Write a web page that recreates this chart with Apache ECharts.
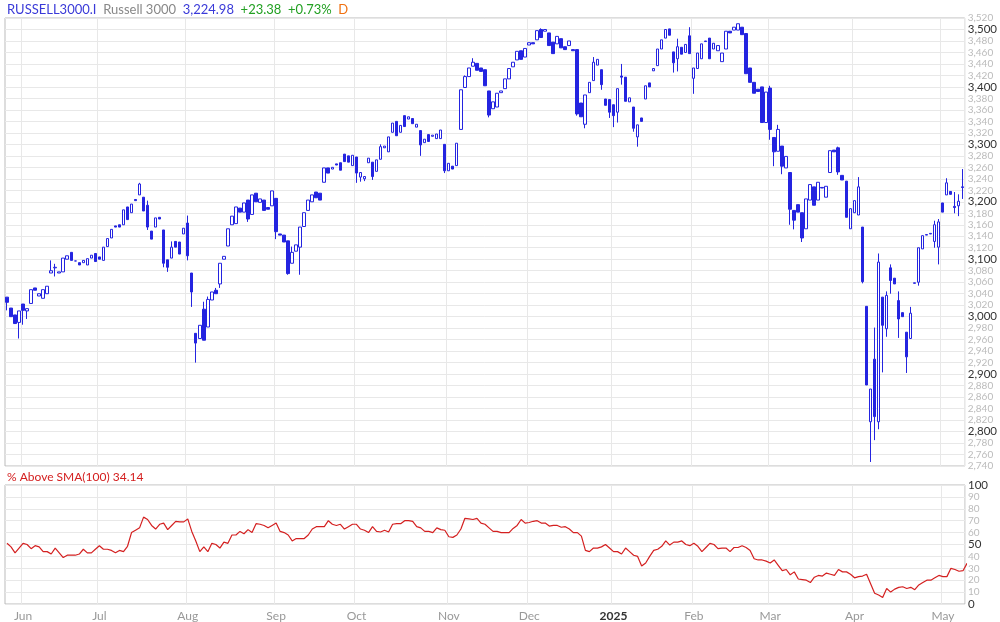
<!DOCTYPE html>
<html><head><meta charset="utf-8">
<script src="https://cdn.jsdelivr.net/npm/echarts@6/dist/echarts.min.js"></script>
<style>html,body{margin:0;padding:0;background:#fff}#c{width:1000px;height:622px}</style>
</head><body><div id="c"></div>
<script>
const opens=[3034,3015,3003,2990,3022,3010,3023,3050,3036,3032,3040,3076,3085,3076,3078,3100,3112,3097,3094,3094,3090,3102,3110,3104,3098,3122,3137,3158,3160,3160,3191,3181,3204,3212,3208,3194,3149,3156,3173,3151,3099,3102,3131,3130,3144,3163,3076,2971,2962,3013,2982,3029,3046,3057,3100,3123,3160,3162,3189,3182,3203,3178,3215,3199,3203,3190,3193,3206,3144,3142,3132,3093,3114,3121,3157,3185,3200,3217,3215,3234,3259,3257,3266,3268,3283,3280,3263,3278,3243,3240,3268,3269,3253,3274,3294,3287,3321,3340,3321,3350,3344,3345,3330,3324,3303,3317,3314,3310,3310,3300,3254,3262,3263,3326,3399,3418,3436,3441,3433,3430,3393,3362,3365,3390,3397,3414,3435,3447,3463,3452,3473,3477,3482,3500,3497,3494,3478,3475,3484,3470,3472,3465,3465,3372,3335,3390,3411,3438,3430,3379,3378,3369,3356,3419,3417,3374,3365,3313,3346,3379,3407,3428,3437,3466,3485,3501,3461,3449,3469,3460,3489,3415,3432,3449,3480,3485,3466,3463,3444,3466,3497,3499,3499,3504,3493,3433,3408,3396,3400,3338,3398,3312,3288,3297,3259,3251,3185,3195,3181,3153,3203,3226,3203,3225,3208,3251,3290,3294,3246,3236,3153,3181,3177,3156,3018,2817,2926,2817,3034,2979,3085,3067,3028,3007,2973,2962,3058,3060,3118,3142,3144,3131,3121,3198,3212,3218,3192,3193,3226];
const closes=[3025,3000,2988,3010,3011,3014,3047,3046,3040,3047,3053,3080,3086,3078,3102,3106,3098,3097,3090,3098,3101,3107,3096,3100,3121,3136,3152,3156,3156,3186,3169,3196,3202,3231,3184,3156,3135,3172,3170,3093,3086,3121,3121,3109,3154,3106,3043,2954,2985,2959,3030,3043,3040,3093,3105,3153,3175,3191,3182,3198,3170,3212,3200,3205,3185,3187,3219,3148,3142,3130,3075,3112,3125,3156,3181,3203,3212,3207,3203,3259,3250,3260,3264,3255,3270,3269,3281,3250,3251,3244,3276,3244,3273,3296,3297,3313,3337,3315,3333,3331,3348,3336,3335,3299,3309,3305,3316,3318,3325,3254,3267,3257,3302,3395,3418,3433,3443,3429,3427,3402,3351,3374,3389,3393,3414,3432,3443,3462,3448,3467,3477,3475,3498,3486,3500,3472,3458,3488,3468,3465,3480,3463,3353,3348,3386,3408,3443,3448,3404,3368,3356,3350,3397,3417,3375,3381,3328,3334,3340,3402,3400,3432,3466,3482,3500,3490,3442,3470,3457,3474,3458,3433,3459,3475,3479,3449,3476,3472,3459,3497,3494,3504,3510,3491,3423,3408,3389,3392,3338,3391,3326,3287,3326,3262,3279,3187,3168,3182,3137,3205,3230,3194,3234,3224,3227,3289,3287,3252,3238,3173,3188,3202,3226,3061,2881,2874,2826,3095,2985,3037,3063,3057,2996,3000,2930,3006,3059,3120,3141,3143,3145,3160,3165,3182,3233,3213,3190,3201,3225];
// wick extremes [candle number (1-based), value]
const wickLows=[[1,3011],[4,2962],[5,2986],[6,2996],[13,3070],[36,3151],[40,3086],[41,3078],[46,3098],[47,3017],[48,2920],[54,3050],[61,3165],[68,3135],[71,3073],[74,3073],[88,3233],[89,3235],[90,3236],[92,3238],[104,3280],[110,3250],[113,3295],[121,3347],[143,3350],[145,3328],[149,3395],[151,3346],[152,3330],[153,3338],[154,3404],[157,3322],[158,3296],[167,3425],[168,3427],[172,3388],[191,3308],[192,3262],[194,3248],[196,3160],[197,3152],[199,3130],[208,3247],[214,3058],[216,2747],[217,2785],[218,2804],[219,2903],[220,2965],[221,3040],[223,2963],[225,2902],[228,3054],[232,3120],[233,3091],[237,3180],[238,3175],[239,3205]];
const wickHighs=[[12,3098],[13,3092],[34,3233],[36,3202],[42,3131],[46,3176],[50,3026],[51,3035],[53,3050],[72,3122],[94,3300],[115,3420],[117,3450],[134,3502],[147,3452],[154,3440],[168,3484],[171,3504],[191,3402],[193,3334],[208,3296],[210,3230],[213,3243],[217,2981],[218,3110],[220,3044],[221,3091],[223,3044],[226,3017],[232,3167],[233,3170],[235,3241],[237,3217],[238,3213],[239,3257]];
const pctAbove=[51,48,43,47,51,50,46.5,49,48,44,44,42,47,43,39,41,41,41,42,46,43,43,46,49,46,46,45,43,45,44,48.5,60,62,64,73,71,66,63,67,68,62.5,66,69.5,69,69,71.5,61,53,44,48,44,51,50,47,52,51,58,58,61,59,62.5,60,67.5,67,66,64,66,68,61,60,58,53,55,55,55,58,63,65,65,65,70,67,66,67,63,65,67,67,63,62,60,65,61,60.5,62,60.5,67,67.5,67.5,70,70,69.5,65,64,61,61,60,64,62.5,62,56.5,56,58,63,72,71.5,71,72,68,67,64,61,61,60,60,60,63.5,66,71,68,68.5,69.5,70,68,68,65.5,66,66,64.5,65,63,60,60,57,45,44,47,47,48,50,47,44,44,42,47,44,41,40,32,34.5,40,45,46,48.5,53,49.5,52,52,53,50,49,51,48.5,44,47.5,51,50,46.5,47,47,44,47.5,47.5,49,47.5,45,38,37,37,36,34.5,37,32.5,28,29,24.5,27,21,20.5,20,18,22.5,24,23.5,26,25,24,29,27,27,25,22,23,23.5,25,17,9,7.5,5.5,13,10,12.5,14,14.5,13,14,12,16,18,20,20,22,24,23,23,30,29,27.5,28,34.14];
const monthStarts=[[5,'Jun'],[24,'Jul'],[46,'Aug'],[68,'Sep'],[88,'Oct'],[111,'Nov'],[131,'Dec'],[152,'2025'],[172,'Feb'],[191,'Mar'],[212,'Apr'],[234,'May']];

const n=closes.length;
const cats=[];for(let i=0;i<n;i++)cats.push(String(i+1));
const lo=[],hi=[];
for(let i=0;i<n;i++){lo.push(Math.min(opens[i],closes[i]));hi.push(Math.max(opens[i],closes[i]));}
wickLows.forEach(([k,v])=>{lo[k-1]=Math.min(lo[k-1],v);});
wickHighs.forEach(([k,v])=>{hi[k-1]=Math.max(hi[k-1],v);});
const candles=opens.map((o,i)=>[o,closes[i],lo[i],hi[i]]);
const mIdx={};monthStarts.forEach(([k,l])=>mIdx[k-1]=l);
const isM=(i)=>mIdx[i]!==undefined;
const blue='#2424e0';
const fmt=v=>v.toLocaleString('en-US');
const ch=echarts.init(document.getElementById('c'));
ch.setOption({
 animation:false,
 textStyle:{fontFamily:'Lato'},
 graphic:[
  {type:'text',left:7,top:3,style:{rich:{a:{fill:'#3a3ad8',fontSize:13,fontFamily:'Lato'},b:{fill:'#888',fontSize:13,fontFamily:'Lato'},g:{fill:'#22a022',fontSize:13,fontFamily:'Lato'},o:{fill:'#f07010',fontSize:13,fontFamily:'Lato'}},text:'{a|RUSSELL3000.I}  {b|Russell 3000}  {a|3,224.98}  {g|+23.38}  {g|+0.73%}  {o|D}'}},
  {type:'text',left:7,top:471,style:{text:'% Above SMA(100) 34.14',fill:'#d42020',fontSize:12,fontFamily:'Lato'}}
 ],
 grid:[
  {left:5,right:35,top:18,height:448,show:true,borderColor:'#bbb',borderWidth:1},
  {left:5,right:35,top:485,height:119,show:true,borderColor:'#bbb',borderWidth:1}
 ],
 xAxis:[
  {type:'category',gridIndex:0,data:cats,boundaryGap:true,axisLine:{show:false},axisTick:{show:false},axisLabel:{show:false},
   splitLine:{show:true,interval:(i)=>isM(i),lineStyle:{color:'#e8e8e8'}}},
  {type:'category',gridIndex:1,data:cats,boundaryGap:true,axisLine:{show:false},axisTick:{show:false},
   axisLabel:{interval:(i)=>isM(i),formatter:(v,i)=>{const l=mIdx[i];return l==='2025'?'{y|2025}':(l||'');},color:'#999',fontSize:12,margin:6,rich:{y:{color:'#333',fontSize:12,fontWeight:'bold'}}},
   splitLine:{show:true,interval:(i)=>isM(i),lineStyle:{color:'#e8e8e8'}}}
 ],
 yAxis:[
  {type:'value',gridIndex:0,position:'right',min:2740,max:3520,interval:20,axisLine:{show:false},axisTick:{show:false},
   splitLine:{lineStyle:{color:'#e8e8e8'}},
   axisLabel:{margin:3,formatter:v=>v%100===0?'{b|'+fmt(v)+'}':'{s|'+fmt(v)+'}',rich:{b:{color:'#333',fontSize:11.5},s:{color:'#bbb',fontSize:10}}}},
  {type:'value',gridIndex:1,position:'right',min:0,max:100,interval:10,axisLine:{show:false},axisTick:{show:false},
   splitLine:{lineStyle:{color:'#e8e8e8'}},
   axisLabel:{margin:3,formatter:v=>v%50===0?'{b|'+v+'}':'{s|'+v+'}',rich:{b:{color:'#333',fontSize:11.5},s:{color:'#bbb',fontSize:10}}}}
 ],
 series:[
  {type:'candlestick',xAxisIndex:0,yAxisIndex:0,data:candles,barWidth:3,
   itemStyle:{color:'#ffffff',color0:blue,borderColor:blue,borderColor0:blue,borderWidth:1}},
  {type:'line',xAxisIndex:1,yAxisIndex:1,data:pctAbove,symbol:'none',lineStyle:{color:'#d42020',width:1.2}}
 ]
});
</script></body></html>
